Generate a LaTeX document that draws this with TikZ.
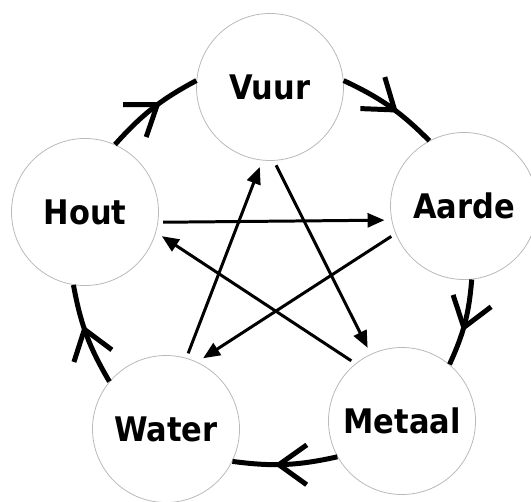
\documentclass[tikz,border=0pt]{standalone}
\usepackage{fontspec}
\usetikzlibrary{arrows.meta,decorations.markings}
\newfontfamily\elemfont{DejaVu Sans Condensed}

\begin{document}
\begin{tikzpicture}[x=1bp, y=-1bp]
\tikzset{
  elem/.style={circle, draw=gray!55, line width=0.8pt, minimum size=147bp, inner sep=0pt, font=\elemfont\bfseries\fontsize{34}{38}\selectfont},
  cyc/.style={line width=5pt, decoration={markings, mark=at position 0.6 with {\arrow{Straight Barb[length=28pt,width=40pt]}}}, postaction={decorate}},
  ctrl/.style={line width=3pt, -{Triangle[length=17pt,width=14pt]}, shorten <=5pt, shorten >=7pt}
}
\useasboundingbox (0,0) rectangle (531,502);

% Elements
\node[elem] (vuur) at (270,87) {Vuur};
\node[elem] (aarde) at (464,206) {Aarde};
\node[elem] (metaal) at (402,421) {Metaal};
\node[elem] (water) at (166,429) {Water};
\node[elem] (hout) at (85,212) {Hout};

% Outer cycle
\draw[cyc] (vuur.5) to[bend left=10] (aarde.118);
\draw[cyc] (aarde.-84) to[bend left=10] (metaal.50);
\draw[cyc] (metaal.209) to[bend left=10] (water.-26);
\draw[cyc] (water.140) to[bend left=10] (hout.-99);
\draw[cyc] (hout.66) to[bend left=10] (vuur.175);

% Inner star
\draw[ctrl] (hout.-8) -- (aarde.191);
\draw[ctrl] (aarde.202) -- (water.65);
\draw[ctrl] (water.74) -- (vuur.-96);
\draw[ctrl] (vuur.-87) -- (metaal.115);
\draw[ctrl] (metaal.129) -- (hout.-16);

\end{tikzpicture}
\end{document}
